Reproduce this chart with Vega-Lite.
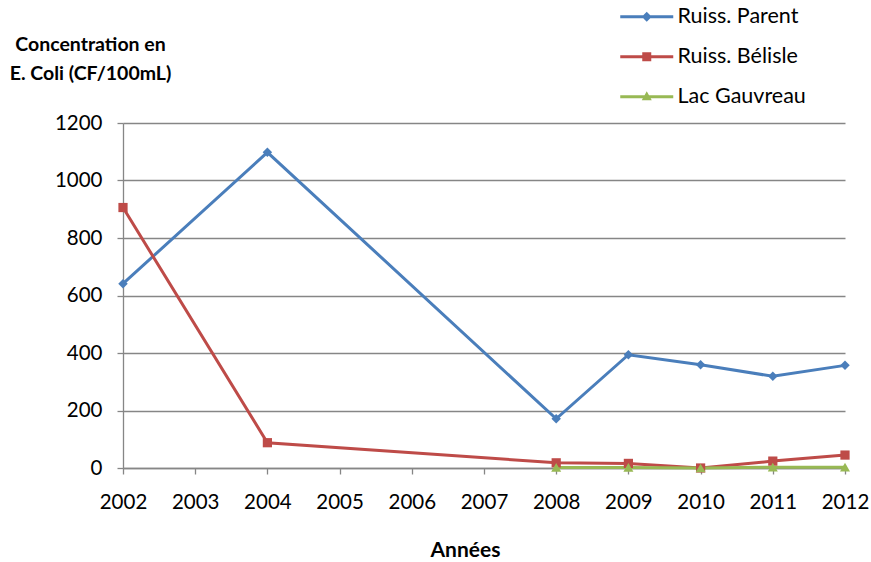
{
  "$schema": "https://vega.github.io/schema/vega-lite/v6.json",
  "width": 722,
  "height": 345,
  "autosize": {"type": "none"},
  "padding": {"left": 123, "top": 123, "right": 26, "bottom": 94},
  "background": "white",
  "config": {
    "view": {"stroke": null},
    "font": "Lato",
    "axis": {"labelFont": "Lato", "titleFont": "Lato", "labelColor": "black", "titleColor": "black"}
  },
  "data": {
    "values": [
      {"year": 2002, "series": "Ruiss. Parent", "value": 641},
      {"year": 2004, "series": "Ruiss. Parent", "value": 1098},
      {"year": 2008, "series": "Ruiss. Parent", "value": 171},
      {"year": 2009, "series": "Ruiss. Parent", "value": 394},
      {"year": 2010, "series": "Ruiss. Parent", "value": 359},
      {"year": 2011, "series": "Ruiss. Parent", "value": 319},
      {"year": 2012, "series": "Ruiss. Parent", "value": 357},
      {"year": 2002, "series": "Ruiss. Bélisle", "value": 906},
      {"year": 2004, "series": "Ruiss. Bélisle", "value": 88},
      {"year": 2008, "series": "Ruiss. Bélisle", "value": 18},
      {"year": 2009, "series": "Ruiss. Bélisle", "value": 16},
      {"year": 2010, "series": "Ruiss. Bélisle", "value": 0},
      {"year": 2011, "series": "Ruiss. Bélisle", "value": 24},
      {"year": 2012, "series": "Ruiss. Bélisle", "value": 45},
      {"year": 2008, "series": "Lac Gauvreau", "value": 2},
      {"year": 2009, "series": "Lac Gauvreau", "value": 2},
      {"year": 2010, "series": "Lac Gauvreau", "value": 0},
      {"year": 2011, "series": "Lac Gauvreau", "value": 3},
      {"year": 2012, "series": "Lac Gauvreau", "value": 3}
    ]
  },
  "encoding": {
    "x": {
      "field": "year", "type": "quantitative",
      "scale": {"domain": [2002, 2012], "nice": false, "zero": false},
      "axis": {
        "values": [2002, 2003, 2004, 2005, 2006, 2007, 2008, 2009, 2010, 2011, 2012],
        "format": "d", "grid": false,
        "domainColor": "#868686", "domainWidth": 1.3,
        "tickColor": "#868686", "tickWidth": 1.3, "tickSize": 6,
        "labelFontSize": 20.5, "labelPadding": 18, "labelFlush": false,
        "title": "Années", "titleFontSize": 21, "titleFontWeight": "bold",
        "titleX": 342, "titleY": 82, "titleBaseline": "middle", "titleAlign": "center"
      }
    },
    "y": {
      "field": "value", "type": "quantitative",
      "scale": {"domain": [0, 1200], "nice": false},
      "axis": {
        "values": [0, 200, 400, 600, 800, 1000, 1200],
        "format": "d",
        "gridColor": "#868686", "gridWidth": 1.3,
        "domainColor": "#868686", "domainWidth": 1.3,
        "tickColor": "#868686", "tickWidth": 1.3, "tickSize": 6,
        "labelFontSize": 20.5, "labelPadding": 15,
        "title": ["Concentration en", "E. Coli (CF/100mL)"],
        "titleFontSize": 19.5, "titleFontWeight": "bold", "titleAngle": 0,
        "titleAlign": "center", "titleBaseline": "middle", "titleLineHeight": 29,
        "titleX": -33, "titleY": -79
      }
    },
    "color": {
      "field": "series", "type": "nominal",
      "scale": {
        "domain": ["Ruiss. Parent", "Ruiss. Bélisle", "Lac Gauvreau"],
        "range": ["#4A7EBB", "#BE4B48", "#98B954"]
      },
      "legend": {
        "title": null, "orient": "none", "legendX": 513, "legendY": -117,
        "padding": 0, "symbolSize": 400, "labelFontSize": 21.5, "labelOffset": 20,
        "rowPadding": 17, "labelColor": "black", "labelFont": "Lato",
        "symbolStrokeWidth": 0, "symbolOpacity": 1
      }
    }
  },
  "layer": [
    {
      "mark": {"type": "line", "strokeWidth": 3},
      "encoding": {"detail": {"field": "series"}}
    },
    {
      "transform": [{"filter": "datum.series === 'Ruiss. Parent'"}],
      "mark": {"type": "point", "shape": "diamond", "size": 90, "filled": true, "opacity": 1, "strokeWidth": 0}
    },
    {
      "transform": [{"filter": "datum.series === 'Ruiss. Bélisle'"}],
      "mark": {"type": "point", "shape": "square", "size": 85, "filled": true, "opacity": 1, "strokeWidth": 0}
    },
    {
      "transform": [{"filter": "datum.series === 'Lac Gauvreau'"}],
      "mark": {"type": "point", "shape": "triangle-up", "size": 100, "filled": true, "opacity": 1, "strokeWidth": 0}
    },
    {
      "transform": [{"filter": "datum.value < 0"}],
      "mark": {"type": "point", "filled": true, "opacity": 1, "strokeWidth": 0},
      "encoding": {
        "shape": {
          "field": "series", "type": "nominal",
          "scale": {
            "domain": ["Ruiss. Parent", "Ruiss. Bélisle", "Lac Gauvreau"],
            "range": [
              "M-2.65,-0.15 H2.65 V0.15 H-2.65 Z M0,-0.5 L0.5,0 L0,0.5 L-0.5,0 Z",
              "M-2.65,-0.15 H2.65 V0.15 H-2.65 Z M-0.45,-0.45 H0.45 V0.45 H-0.45 Z",
              "M-2.65,-0.15 H2.65 V0.15 H-2.65 Z M0,-0.55 L0.5,0.35 H-0.5 Z"
            ]
          }
        }
      }
    }
  ]
}
